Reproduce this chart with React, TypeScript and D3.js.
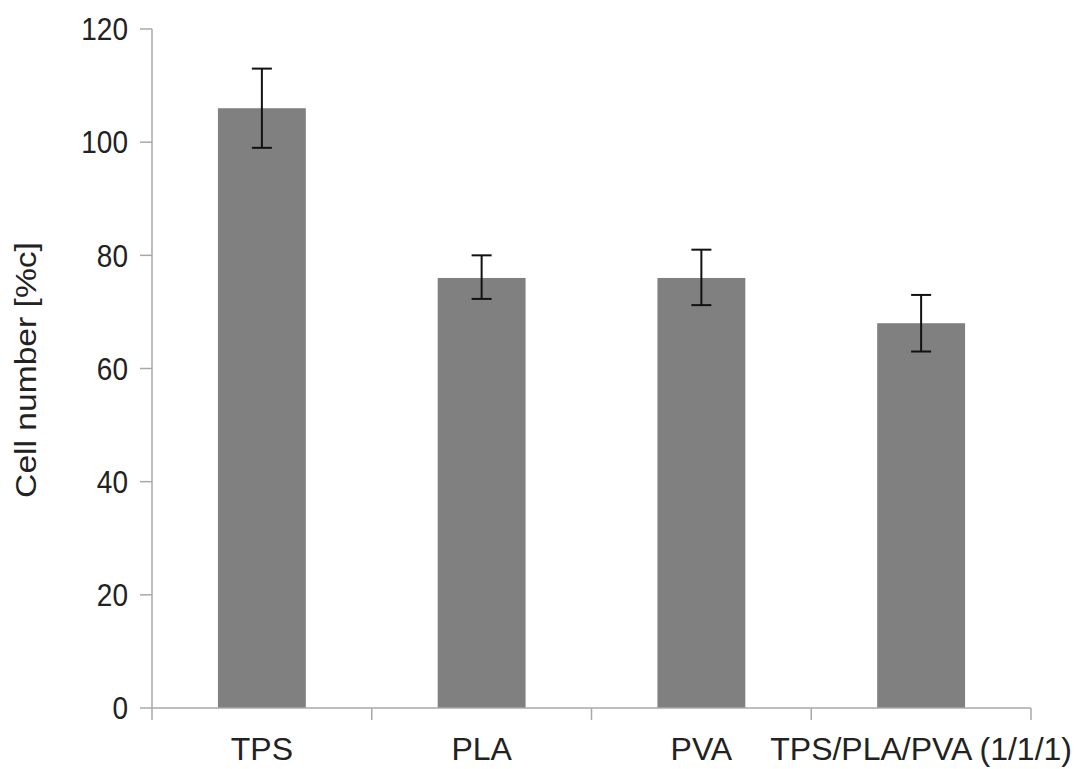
import * as d3 from "d3";
import React, { useEffect, useRef } from "react";

const categories = ["TPS", "PLA", "PVA", "TPS/PLA/PVA (1/1/1)"];
const values = [106, 76, 76, 68];
const errLow = [99, 72.3, 71.2, 63];
const errHigh = [113, 80, 81, 73];
const yTicks = [0, 20, 40, 60, 80, 100, 120];

const W = 1083;
const H = 769;
const axisColor = "#a8a8a8";
const barColor = "#808080";
const font = "'Liberation Sans', Arial, sans-serif";

const chart = () => {
  const x0 = 152, x1 = 1031, y0 = 708, y1 = 29;

  const x = d3
    .scaleBand()
    .domain(categories)
    .range([x0, x1])
    .paddingInner(0.6)
    .paddingOuter(0.3);
  const xStep = d3.scaleBand().domain(categories).range([x0, x1]);
  const y = d3.scaleLinear().domain([0, 120]).range([y0, y1]);

  const svg = d3
    .create("svg")
    .attr("width", W)
    .attr("height", H)
    .attr("style", "position:absolute;left:0;top:0;background:#fff");

  // bars
  svg
    .append("g")
    .selectAll("rect")
    .data(categories)
    .join("rect")
    .attr("x", (d) => x(d))
    .attr("width", x.bandwidth())
    .attr("y", (d, i) => y(values[i]))
    .attr("height", (d, i) => y(0) - y(values[i]))
    .attr("fill", barColor);

  // axes
  svg
    .append("line")
    .attr("x1", x0)
    .attr("x2", x0)
    .attr("y1", y(120))
    .attr("y2", y(0))
    .attr("stroke", axisColor)
    .attr("stroke-width", 1.5);
  svg
    .append("line")
    .attr("x1", x0)
    .attr("x2", x1)
    .attr("y1", y0)
    .attr("y2", y0)
    .attr("stroke", axisColor)
    .attr("stroke-width", 1.5);

  const yt = svg.append("g").selectAll("g").data(yTicks).join("g");
  yt.append("line")
    .attr("x1", x0 - 12)
    .attr("x2", x0)
    .attr("y1", (d) => y(d))
    .attr("y2", (d) => y(d))
    .attr("stroke", axisColor)
    .attr("stroke-width", 1.5);
  yt.append("text")
    .attr("transform", (d) => `translate(${x0 - 24},${y(d)}) scale(1,1.12)`)
    .attr("dy", "0.36em")
    .attr("text-anchor", "end")
    .attr("font-family", font)
    .attr("font-size", 28)
    .attr("fill", "#222")
    .text((d) => d);

  const xEdges = [...categories.map((c) => xStep(c)), x1];
  svg
    .append("g")
    .selectAll("line")
    .data(xEdges)
    .join("line")
    .attr("x1", (d) => d)
    .attr("x2", (d) => d)
    .attr("y1", y0)
    .attr("y2", y0 + 12)
    .attr("stroke", axisColor)
    .attr("stroke-width", 1.5);

  svg
    .append("g")
    .selectAll("text")
    .data(categories)
    .join("text")
    .attr("x", (d) => x(d) + x.bandwidth() / 2)
    .attr("y", 760)
    .attr("text-anchor", "middle")
    .attr("font-family", font)
    .attr("font-size", 32)
    .attr("fill", "#222")
    .text((d) => d);

  // error bars
  const eb = svg.append("g").attr("stroke", "#111").attr("stroke-width", 2);
  categories.forEach((c, i) => {
    const cx = x(c) + x.bandwidth() / 2;
    eb.append("line")
      .attr("x1", cx).attr("x2", cx)
      .attr("y1", y(errHigh[i])).attr("y2", y(errLow[i]));
    [errHigh[i], errLow[i]].forEach((v) => {
      eb.append("line")
        .attr("x1", cx - 10).attr("x2", cx + 10)
        .attr("y1", y(v)).attr("y2", y(v));
    });
  });

  // y label
  svg
    .append("text")
    .attr("transform", "translate(36,370) scale(1,1.12) rotate(-90)")
    .attr("text-anchor", "middle")
    .attr("font-family", font)
    .attr("font-size", 30)
    .attr("fill", "#222")
    .text("Cell number [%c]");

  return svg.node();
};

export default function App() {
  const holderRef = useRef<HTMLDivElement | null>(null);

  useEffect(() => {
    const holder = holderRef.current;
    if (!holder || holder.hasChildNodes()) return;
    holder.appendChild(chart());
  }, []);

  return <div ref={holderRef}></div>;
}
